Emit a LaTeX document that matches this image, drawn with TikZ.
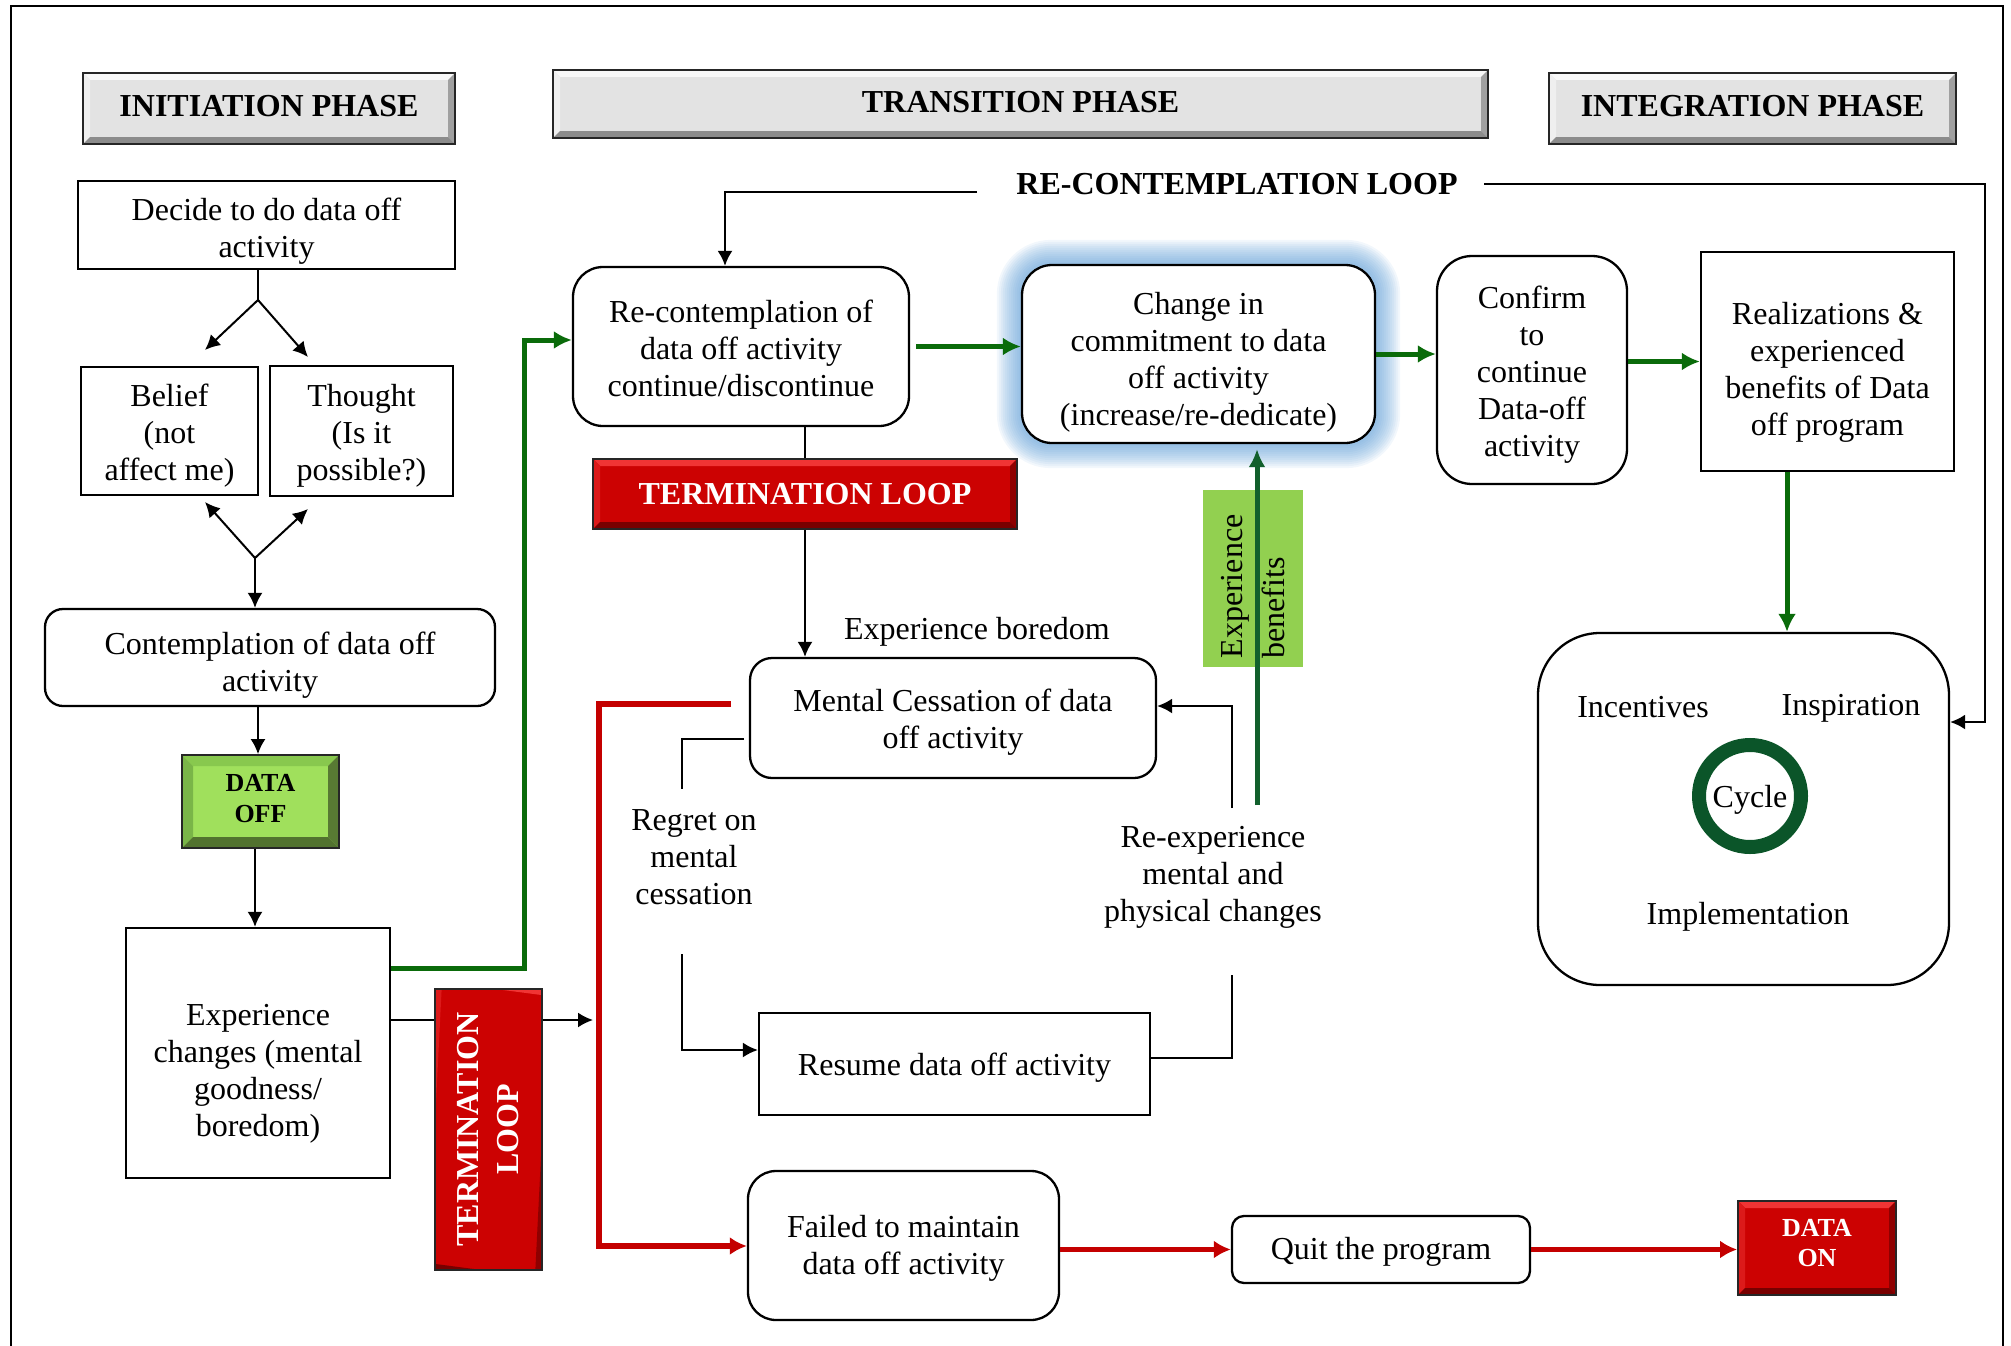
\documentclass[tikz,border=0pt]{standalone}
\usepackage{fontspec}
\setmainfont{Liberation Serif}
\usetikzlibrary{arrows.meta,backgrounds}

\definecolor{hdrface}{HTML}{E3E3E3}
\definecolor{hdrtop}{HTML}{F8F8F8}
\definecolor{hdrleft}{HTML}{EFEFEF}
\definecolor{hdrright}{HTML}{A0A0A0}
\definecolor{hdrbot}{HTML}{8C8C8C}
\definecolor{redface}{HTML}{CC0202}
\definecolor{redtop}{HTML}{F03434}
\definecolor{redleft}{HTML}{DC1A1A}
\definecolor{redright}{HTML}{8E0000}
\definecolor{redbot}{HTML}{780000}
\definecolor{gface}{HTML}{A0E05C}
\definecolor{gtop}{HTML}{88C84E}
\definecolor{gleft}{HTML}{7AB548}
\definecolor{gright}{HTML}{587A33}
\definecolor{gbot}{HTML}{52722F}
\definecolor{flowgreen}{HTML}{0A6B0A}
\definecolor{darkflow}{HTML}{12602C}
\definecolor{ringgreen}{HTML}{0B5529}
\definecolor{lblgreen}{HTML}{92D050}
\definecolor{flowred}{HTML}{C40000}
\definecolor{glowblue}{HTML}{5B9BD5}

\newcommand\phfont{\fontsize{32}{37}\selectfont\bfseries}

\begin{document}
\begin{tikzpicture}[x=1pt,y=-1pt,
  every node/.style={font=\fontsize{32}{37}\selectfont},
  box/.style={draw, line width=2.3pt, fill=white, inner sep=0pt},
  rbox/.style={box, rounded corners=#1},
  txt/.style={align=center, inner sep=0pt},
  bevel/.style n args={6}{fill=#1, draw=black!85, line width=1.8pt, inner sep=0pt,
    path picture={
      \fill[#2] (path picture bounding box.north west) -- (path picture bounding box.north east)
        -- ([xshift=-#6,yshift=-#6]path picture bounding box.north east)
        -- ([xshift=#6,yshift=-#6]path picture bounding box.north west) -- cycle;
      \fill[#3] (path picture bounding box.north west) -- ([xshift=#6,yshift=-#6]path picture bounding box.north west)
        -- ([xshift=#6,yshift=#6]path picture bounding box.south west)
        -- (path picture bounding box.south west) -- cycle;
      \fill[#4] (path picture bounding box.north east) -- ([xshift=-#6,yshift=-#6]path picture bounding box.north east)
        -- ([xshift=-#6,yshift=#6]path picture bounding box.south east)
        -- (path picture bounding box.south east) -- cycle;
      \fill[#5] (path picture bounding box.south west) -- ([xshift=#6,yshift=#6]path picture bounding box.south west)
        -- ([xshift=-#6,yshift=#6]path picture bounding box.south east)
        -- (path picture bounding box.south east) -- cycle;
    }},
  hdr/.style={bevel={hdrface}{hdrtop}{hdrleft}{hdrright}{hdrbot}{7pt}},
  redbev/.style={bevel={redface}{redtop}{redleft}{redright}{redbot}{7pt}},
  greenbev/.style={bevel={gface}{gtop}{gleft}{gright}{gbot}{11pt}},
  blk/.style={draw=black, line width=2pt},
  blkarrow/.style={blk, -{Latex[length=15pt,width=15pt]}},
  grnarrow/.style={draw=flowgreen, line width=5pt, -{Latex[length=18pt,width=18pt]}},
  redarrow/.style={draw=flowred, line width=5.5pt, -{Latex[length=17pt,width=18pt]}},
]
\useasboundingbox (0,0) rectangle (2011,1346);

% frame
\draw[line width=2.5pt] (11,1360) -- (11,6) -- (2003,6) -- (2003,1360);

% phase headers
\node[hdr, minimum width=372pt, minimum height=71pt] (initph) at (269,108.5) {};
\node[txt, font=\phfont] (initphtext) at ([yshift=2.5pt]initph.center) {INITIATION PHASE};
\node[hdr, minimum width=935pt, minimum height=68pt] (transph) at (1020.5,104) {};
\node[txt, font=\phfont] (transphtext) at ([yshift=1.5pt]transph.center) {TRANSITION PHASE};
\node[hdr, minimum width=407pt, minimum height=71pt] (integph) at (1752.5,108.5) {};
\node[txt, font=\phfont] (integphtext) at ([yshift=2.5pt]integph.center) {INTEGRATION PHASE};

% initiation column
\node[box, minimum width=377pt, minimum height=88pt] (decide) at (266.5,225) {};
\node[txt] (decidetext) at ([yshift=-6.5pt]decide.center) {Decide to do data off\\activity};
\node[box, minimum width=177pt, minimum height=128pt] (belief) at (169.5,431) {};
\node[txt] (belieftext) at ([yshift=-5pt]belief.center) {Belief\\(not\\affect me)};
\node[box, minimum width=183pt, minimum height=130pt] (thought) at (361.5,431) {};
\node[txt] (thoughttext) at ([yshift=-5pt]thought.center) {Thought\\(Is it\\possible?)};
\node[rbox=18pt, minimum width=450pt, minimum height=97pt] (contempl) at (270,657.5) {};
\node[txt] (contempltext) at ([yshift=-8pt]contempl.center) {Contemplation of data off\\activity};
\node[greenbev, minimum width=157pt, minimum height=93pt] (dataoff) at (260.5,801.5) {};
\node[txt, font=\fontsize{26}{31}\selectfont\bfseries] (dataofftext) at ([yshift=2.5pt]dataoff.center) {DATA\\OFF};
\node[box, minimum width=264pt, minimum height=250pt] (exper) at (258,1053) {};
\node[txt] (expertext) at ([yshift=-21pt]exper.center) {Experience\\changes (mental\\goodness/\\boredom)};
\node[redbev, rotate=90, minimum width=281pt, minimum height=107pt] (tlv) at (488.5,1129.5) {};
\node[txt, rotate=90, text=white, font=\fontsize{32}{40}\selectfont\bfseries] (tlvtext) at (tlv.center) {TERMINATION\\LOOP};

% transition column
\node[rbox=30pt, minimum width=336pt, minimum height=159pt] (recon) at (741,346.5) {};
\node[txt] (recontext) at ([yshift=-1.5pt]recon.center) {Re-contemplation of\\data off activity\\continue/discontinue};
\node[redbev, minimum width=424pt, minimum height=70pt] (tlh) at (805,494) {};
\node[txt, text=white, font=\phfont] (tlhtext) at (tlh.center) {TERMINATION LOOP};
\node[rbox=22pt, minimum width=406pt, minimum height=120pt] (mental) at (953,718) {};
\node[txt] (mentaltext) at ([yshift=-4pt]mental.center) {Mental Cessation of data\\off activity};
\node[box, minimum width=391pt, minimum height=102pt] (resume) at (954.5,1064) {};
\node[txt] (resumetext) at ([yshift=-4pt]resume.center) {Resume data off activity};
\node[rbox=28pt, minimum width=311pt, minimum height=149pt] (failed) at (903.5,1245.5) {};
\node[txt] (failedtext) at ([yshift=-2.5pt]failed.center) {Failed to maintain\\data off activity};
\node[rbox=12pt, minimum width=298pt, minimum height=67pt] (quit) at (1381,1249.5) {};
\node[txt] (quittext) at ([yshift=-2.5pt]quit.center) {Quit the program};
\node[redbev, minimum width=158pt, minimum height=94pt] (dataon) at (1817,1248) {};
\node[txt, text=white, font=\fontsize{26}{30}\selectfont\bfseries] (dataontext) at ([yshift=5pt]dataon.center) {DATA\\ON};

\node[rbox=30pt, minimum width=353pt, minimum height=178pt] (change) at (1198.5,354) {};
\node[txt] (changetext) at ([yshift=-8pt]change.center) {Change in\\commitment to data\\off activity\\(increase/re-dedicate)};
\begin{scope}[on background layer]
  \foreach \r in {2,4,...,24}
    \fill[glowblue, opacity=0.08, rounded corners={30pt+\r pt}]
      ([xshift=-\r pt,yshift=\r pt]change.north west) rectangle ([xshift=\r pt,yshift=-\r pt]change.south east);
\end{scope}

\node[fill=lblgreen, rotate=90, minimum width=177pt, minimum height=100pt, text width=160pt,
      align=left, inner xsep=8.5pt, inner ysep=0pt, font=\fontsize{32}{42}\selectfont] (benlbl) at (1253,578.5) {Experience\\benefits};

% integration column
\node[rbox=35pt, minimum width=190pt, minimum height=228pt] (confirm) at (1532,370) {};
\node[txt] (confirmtext) at ([yshift=-5pt]confirm.center) {Confirm\\to\\continue\\Data-off\\activity};
\node[box, minimum width=253pt, minimum height=219pt] (realiz) at (1827.5,361.5) {};
\node[txt] (realiztext) at ([yshift=-11pt]realiz.center) {Realizations \&\\experienced\\benefits of Data\\off program};
\node[rbox=62pt, minimum width=411pt, minimum height=352pt] (cyclebox) at (1743.5,809) {};
\node (incent) at (1643,707) {Incentives};
\node (inspir) at (1851,708) {Inspiration};
\node[circle, draw=ringgreen, line width=14pt, minimum size=102pt, inner sep=0pt] (cyc) at (1750,796) {};
\node[txt] (cyctext) at ([yshift=-4pt]cyc.center) {Cycle};
\node (implem) at (1748,917) {Implementation};

% free labels
\node[font=\phfont] (reconloop) at (1237,184) {RE-CONTEMPLATION LOOP};
\node (boredom) at (977,632) {Experience boredom};
\node[align=center] (regret) at (694,857) {Regret on\\mental\\cessation};
\node[align=center] (reexp) at (1213,877) {Re-experience\\mental and\\physical changes};

% initiation connectors
\coordinate (fork1) at (258,300);
\coordinate (bTip) at (205,350);
\coordinate (tTip) at (308,357);
\draw[blk] (decide.south -| fork1) -- (fork1);
\draw[blkarrow] (fork1) -- (bTip);
\draw[blkarrow] (fork1) -- (tTip);
\coordinate (fork2) at (255,558);
\coordinate (bTip2) at (205,502);
\coordinate (tTip2) at (308,509);
\draw[blkarrow] (fork2) -- (bTip2);
\draw[blkarrow] (fork2) -- (tTip2);
\draw[blkarrow] (fork2) -- (contempl.north -| fork2);
\draw[blkarrow] (contempl.south -| fork1) -- (dataoff.north -| fork1);
\draw[blkarrow] (dataoff.south -| fork2) -- (exper.north -| fork2);

% green route to re-contemplation
\coordinate (gA) at (524,968);
\coordinate (gB) at (524,340);
\draw[grnarrow] (exper.east |- gA) -- (gA) -- (gB) -- (recon.west |- gB);

% termination loop (vertical) route
\coordinate (tA) at (593,1020);
\draw[blk] (exper.east |- tA) -- (tlv.north |- tA);
\draw[blkarrow] (tlv.south |- tA) -- (tA);

% red failure route
\coordinate (rA) at (731,704);
\coordinate (rB) at (599,704);
\coordinate (rC) at (599,1246);
\draw[redarrow] (rA) -- (rB) -- (rC) -- (failed.west |- rC);
\draw[redarrow] (failed.east |- quit.west) -- (quit.west);
\draw[redarrow] (quit.east) -- (dataon.west |- quit.east);

% re-contemplation loop
\coordinate (rlA) at (977,192);
\coordinate (rlB) at (725,192);
\draw[blkarrow] (rlA) -- (rlB) -- (recon.north -| rlB);
\coordinate (rlC) at (1484,184);
\coordinate (rlD) at (1985,184);
\coordinate (rlE) at (1985,722);
\draw[blkarrow] (rlC) -- (rlD) -- (rlE) -- (cyclebox.east |- rlE);

% main green flow
\draw[grnarrow, shorten <=6pt] (recon.east) -- (change.west |- recon.east);
\draw[grnarrow] (change.east) -- (confirm.west |- change.east);
\draw[grnarrow] (confirm.east |- realiz.west) -- (realiz.west);
\coordinate (rzx) at (1787,471);
\draw[grnarrow] (realiz.south -| rzx) -- (cyclebox.north -| rzx);

% termination loop (horizontal) route
\draw[blk] (recon.south -| tlh.north) -- (tlh.north);
\draw[blkarrow] (tlh.south) -- (mental.north -| tlh.south);

% regret route
\coordinate (mL) at (744,739);
\coordinate (gR1) at (682,789);
\coordinate (gR2) at (682,954);
\coordinate (gR3) at (682,1050);
\draw[blk] (mL) -- (mL -| gR1) -- (gR1);
\draw[blkarrow] (gR2) -- (gR3) -- (resume.west |- gR3);

% re-experience route
\coordinate (xD) at (1232,1058);
\coordinate (xA) at (1232,975);
\coordinate (xB) at (1232,808);
\coordinate (xC) at (1232,706);
\draw[blk] (resume.east |- xD) -- (xD) -- (xA);
\draw[blkarrow] (xB) -- (xC) -- (mental.east |- xC);

% experience benefits
\coordinate (bA) at (1257,805);
\draw[draw=darkflow, line width=5pt, -{Latex[length=18pt,width=17pt]}, shorten >=5pt] (bA) -- (bA |- change.south);
\end{tikzpicture}
\end{document}
